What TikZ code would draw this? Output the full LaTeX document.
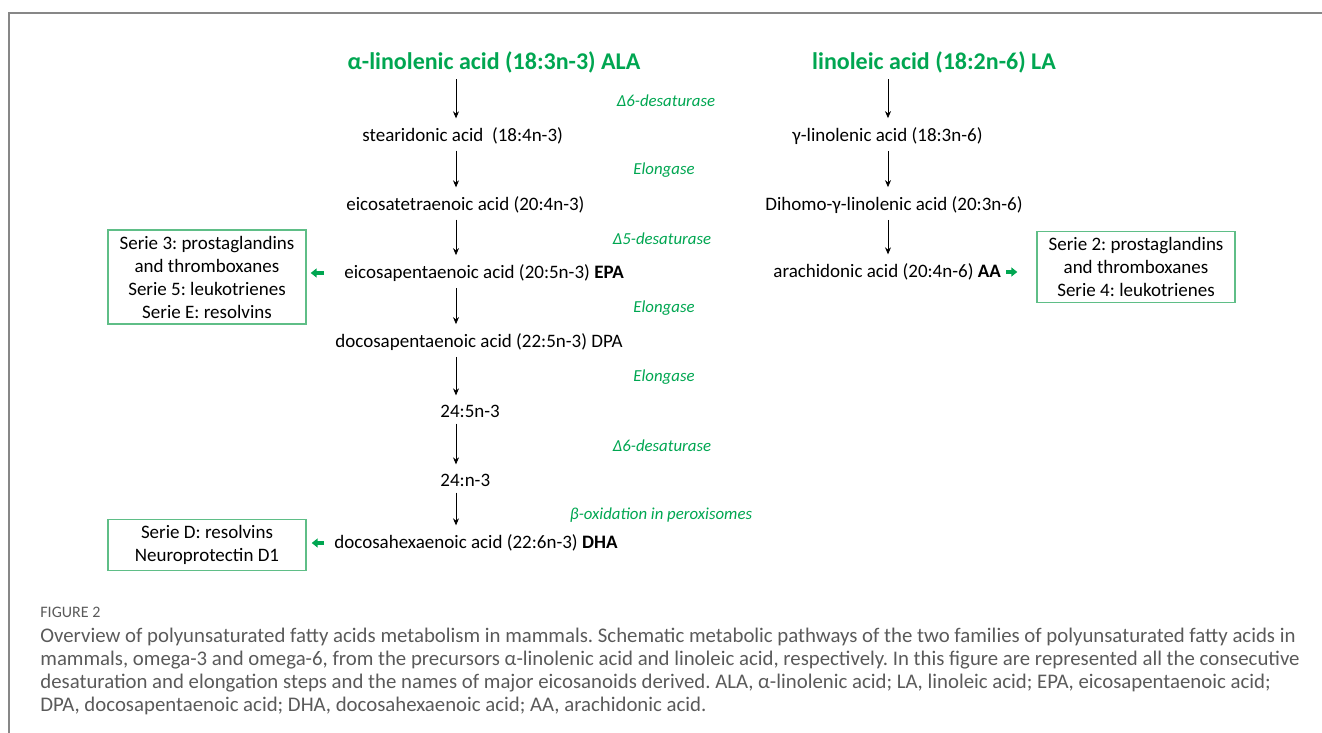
\documentclass[tikz,border=0pt]{standalone}
\usepackage{fontspec}
\setmainfont{Carlito}
\usepackage{xcolor}
\usepackage{tikz}
\usetikzlibrary{arrows.meta, positioning}
\definecolor{leafgreen}{RGB}{0,166,81}
\definecolor{boxgreen}{RGB}{95,190,135}
\definecolor{framegray}{RGB}{135,135,135}
\definecolor{captiongray}{RGB}{90,90,90}
\frenchspacing
\begin{document}
\begin{tikzpicture}[
    x=0.5pt, y=-0.5pt,
    acid/.style={inner sep=0pt, anchor=west, font=\fontsize{9.5}{11}\selectfont},
    title/.style={inner sep=0pt, font=\fontsize{12}{14}\selectfont\bfseries, text=leafgreen},
    enzyme/.style={inner sep=0pt, font=\fontsize{8.4}{10}\selectfont\itshape, text=leafgreen},
    series/.style={rectangle, draw=boxgreen, line width=0.7pt, align=center, minimum width=99pt, inner ysep=3pt, font=\fontsize{9.5}{11.5}\selectfont},
    arrow/.style={-{Stealth[length=3.5pt, width=3pt]}, line width=0.4pt, shorten <=3pt, shorten >=4.5pt},
    greenarrow/.style={-{Triangle[length=3pt, width=4.5pt]}, line width=1.6pt, color=leafgreen},
    caption/.style={inner sep=0pt, anchor=west, text=captiongray, font=\fontsize{10.4}{12}\selectfont}
]
\useasboundingbox (0,0) rectangle (1322,733);
% Frame
\draw[framegray, line width=1pt] (1322,13) -- (9,13) -- (9,733);
% Columns
\coordinate (colA) at (456,0);
\coordinate (colB) at (888,0);
% Omega-3 nodes
\node[title] (ala) at (494,62) {α-linolenic acid (18:3n-3) ALA};
\node[acid] (sda) at (362,136) {stearidonic acid\ \ (18:4n-3)};
\node[acid] (eta) at (346,205) {eicosatetraenoic acid (20:4n-3)};
\node[acid] (epa) at (344,273) {eicosapentaenoic acid (20:5n-3) \textbf{EPA}};
\node[acid] (dpa) at (335,342) {docosapentaenoic acid (22:5n-3) DPA};
\node[acid] (tpa) at (440,411) {24:5n-3};
\node[acid] (tha) at (440,480) {24:n-3};
\node[acid] (dha) at (334,543) {docosahexaenoic acid (22:6n-3) \textbf{DHA}};
% Enzymes
\node[enzyme] (d6a) at (666,101) {Δ6-desaturase};
\node[enzyme] (el1) at (664,170) {Elongase};
\node[enzyme] (d5) at (662,239) {Δ5-desaturase};
\node[enzyme] (el2) at (664,308) {Elongase};
\node[enzyme] (el3) at (664,377) {Elongase};
\node[enzyme] (d6b) at (662,446) {Δ6-desaturase};
\node[enzyme] (box) at (661,515) {β-oxidation in peroxisomes};
% Omega-6 nodes
\node[title] (la) at (934,62) {linoleic acid (18:2n-6) LA};
\node[acid] (gla) at (792,136) {γ-linolenic acid (18:3n-6)};
\node[acid] (dgla) at (765,205) {Dihomo-γ-linolenic acid (20:3n-6)};
\node[acid] (aa) at (773,272) {arachidonic acid (20:4n-6) \textbf{AA}};
% Eicosanoid boxes
\node[series] (ser3) at (207,277) {Serie 3: prostaglandins\\and thromboxanes\\Serie 5: leukotrienes\\Serie E: resolvins};
\node[series] (serd) at (207,545) {Serie D: resolvins\\Neuroprotectin D1};
\node[series] (ser2) at (1136,267) {Serie 2: prostaglandins\\and thromboxanes\\Serie 4: leukotrienes};
% Arrows - omega-3
\draw[arrow] (ala.south -| colA) -- (sda.north -| colA);
\draw[arrow] (sda.south -| colA) -- (eta.north -| colA);
\draw[arrow] (eta.south -| colA) -- (epa.north -| colA);
\draw[arrow] (epa.south -| colA) -- (dpa.north -| colA);
\draw[arrow] (dpa.south -| colA) -- (tpa.north -| colA);
\draw[arrow] (tpa.south -| colA) -- (tha.north -| colA);
\draw[arrow] (tha.south -| colA) -- (dha.north -| colA);
% Arrows - omega-6
\draw[arrow] (la.south -| colB) -- (gla.north -| colB);
\draw[arrow] (gla.south -| colB) -- (dgla.north -| colB);
\draw[arrow] (dgla.south -| colB) -- (aa.north -| colB);
% Green arrows to eicosanoids
\draw[greenarrow, shorten <=10pt, shorten >=2pt] (epa.west) -- (ser3.east |- epa.west);
\draw[greenarrow, shorten <=5pt, shorten >=2.5pt] (dha.west) -- (serd.east |- dha.west);
\draw[greenarrow, shorten <=2.5pt, shorten >=9.5pt] (aa.east) -- (ser2.west |- aa.east);
% Caption
\node[caption, font=\fontsize{8}{9}\selectfont] (fig) at (40,612) {FIGURE 2};
\node[caption] (cap1) at (40,637) {Overview of polyunsaturated fatty acids metabolism in mammals. Schematic metabolic pathways of the two families of polyunsaturated fatty acids in};
\node[caption] (cap2) at (40,660) {mammals, omega-3 and omega-6, from the precursors α-linolenic acid and linoleic acid, respectively. In this figure are represented all the consecutive};
\node[caption] (cap3) at (40,683) {desaturation and elongation steps and the names of major eicosanoids derived. ALA, α-linolenic acid; LA, linoleic acid; EPA, eicosapentaenoic acid;};
\node[caption] (cap4) at (40,706) {DPA, docosapentaenoic acid; DHA, docosahexaenoic acid; AA, arachidonic acid.};
\end{tikzpicture}
\end{document}
